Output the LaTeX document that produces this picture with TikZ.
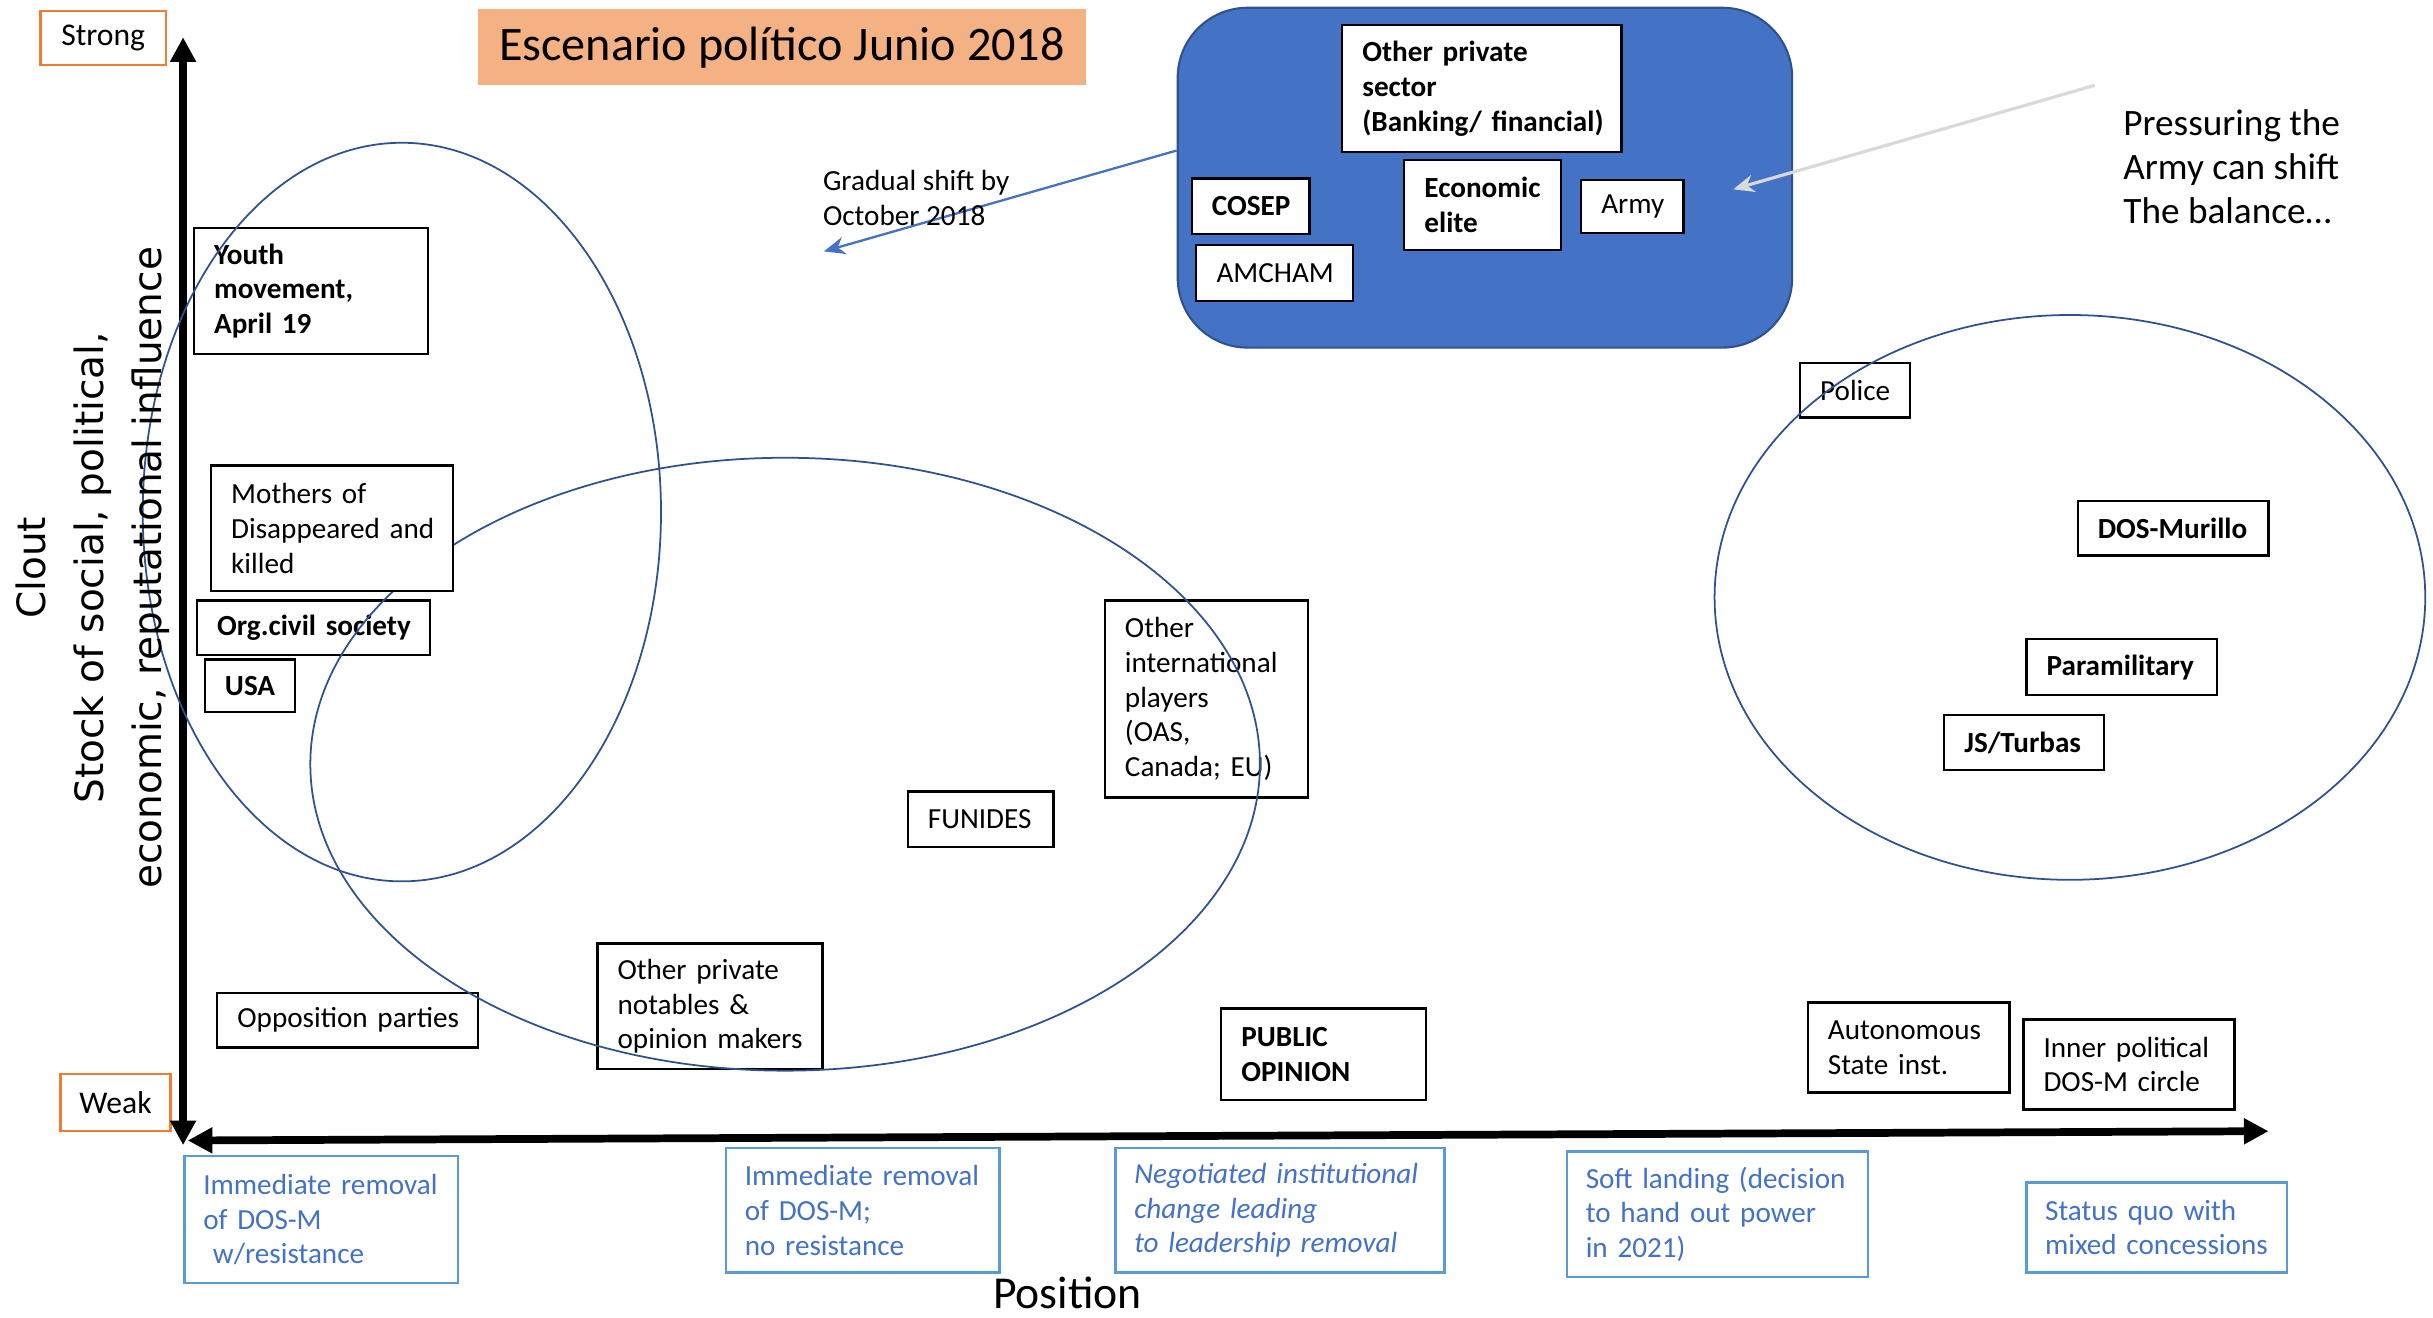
\documentclass[tikz,border=0pt]{standalone}
\usepackage{fontspec}
\setmainfont{Carlito}
\newfontfamily\axisfont{DejaVu Sans}
\usetikzlibrary{arrows.meta}
\newlength\ux
\setlength\ux{0.015517cm}
\definecolor{ringblue}{HTML}{2F528F}
\definecolor{panelblue}{HTML}{4472C4}
\definecolor{scenline}{HTML}{5B9BD5}
\definecolor{scentext}{HTML}{4472C4}
\definecolor{markorange}{HTML}{ED7D31}
\definecolor{titlepeach}{HTML}{F4B183}
\definecolor{hintgray}{HTML}{D9D9D9}
\newcommand\bodyfont{\fontsize{8.3pt}{9.9pt}\selectfont}
\newcommand\padtext[1]{\leftskip=#1\ux\relax\rightskip=0pt plus 1fil\relax\parfillskip=0pt plus 1fil\relax
  \hyphenpenalty=10000\relax\exhyphenpenalty=10000\relax}
\begin{document}
\begin{tikzpicture}[x=0.015517cm, y=-0.015517cm,
  actor/.style 2 args={draw, fill=white, line width=0.65pt, inner xsep=0pt, inner ysep=0pt,
    text width=#1\ux, minimum height=#2\ux, font=\bodyfont, execute at begin node={\padtext{13}}},
  scenario/.style 2 args={draw=scenline, line width=0.7pt, text=scentext, inner xsep=0pt, inner ysep=0pt,
    text width=#1\ux, minimum height=#2\ux, font=\bodyfont, execute at begin node={\padtext{12}}},
  endmark/.style 2 args={draw=markorange, line width=0.7pt, minimum width=#1\ux, minimum height=#2\ux,
    inner sep=0pt, font=\fontsize{9pt}{10.8pt}\selectfont},
  ring/.style={draw=ringblue, line width=0.5pt},
  axis/.style={line width=2.2pt, {Triangle[length=7pt,width=7pt]}-{Triangle[length=7pt,width=7pt]}}]
\fill[white] (0,0) rectangle (1568,849);
\useasboundingbox (0,0) rectangle (1568,849);

\node[fill=titlepeach, minimum width=392\ux, minimum height=49\ux, inner sep=0pt,
  font=\fontsize{13.7pt}{16pt}\selectfont] (title) at (504,30.5) {Escenario político Junio 2018};
\node[endmark={81}{35}] (strong) at (66.5,24.5) {Strong};
\node[endmark={71}{37}] (weak) at (74.5,710.5) {Weak};

\node[fill=panelblue, draw=ringblue, line width=0.6pt, rounded corners=45\ux,
  minimum width=396\ux, minimum height=219\ux] (panel) at (957,114.5) {};
\node[actor={180}{82}, font=\bodyfont\bfseries] (banking) at (955,57) {Other private\\sector\\(Banking/ financial)};
\node[actor={76}{36}, font=\bodyfont\bfseries] (cosep) at (806,133) {COSEP};
\node[actor={101}{36}] (amcham) at (821.5,176) {AMCHAM};
\node[actor={101}{58}, font=\bodyfont\bfseries] (elite) at (955.5,132) {Economic\\elite};
\node[actor={66}{34}] (army) at (1052,133) {Army};

\coordinate (ytop) at (118,24);
\coordinate (ybot) at (118,738);
\coordinate (xleft) at (121,735);
\coordinate (xright) at (1462,729);
\draw[axis] (ybot) -- (ytop);
\draw[axis] (xleft) -- (xright);

\node[actor={151}{81}, font=\bodyfont\bfseries] (youth) at (200.5,187.5) {Youth\\movement,\\April 19};
\node[actor={150}{35}, font=\bodyfont\bfseries] (civil) at (202,404.5) {Org.civil society};
\node[actor={58}{34}, font=\bodyfont\bfseries] (usa) at (161,442) {USA};
\node[actor={168}{35}] (opposition) at (224,657.5) {Opposition parties};
\node[actor={145}{81}] (notables) at (457.5,648.5) {Other private\\notables \&\\opinion makers};
\node[actor={94}{36}] (funides) at (632,528) {FUNIDES};
\node[actor={131}{127}] (intl) at (777.5,450.5) {Other\\international\\players\\(OAS,\\Canada; EU)};
\node[actor={132}{59}, font=\bodyfont\bfseries] (public) at (853,679.5) {PUBLIC\\OPINION};
\node[actor={71}{35}] (police) at (1195.5,251.5) {Police};
\node[actor={123}{35}, font=\bodyfont\bfseries] (dosm) at (1400.5,340.5) {DOS-Murillo};
\node[actor={123}{36}, font=\bodyfont\bfseries] (para) at (1367.5,430) {Paramilitary};
\node[actor={103}{35}, font=\bodyfont\bfseries] (turbas) at (1304.5,478.5) {JS/Turbas};
\node[actor={130}{58}] (autonomous) at (1230,675) {Autonomous\\State inst.};
\node[actor={136}{58}] (innercircle) at (1372,686) {Inner political\\DOS-M circle};

\draw[ring] (259,330) ellipse [x radius=167, y radius=238];
\draw[ring] (506,492.5) ellipse [x radius=306, y radius=197.5];
\draw[ring] (1334,385) ellipse [x radius=229, y radius=182];

\node[actor={156}{81}] (mothers) at (214,340.5) {Mothers of\\Disappeared and\\killed};

\coordinate (shiftend) at (531,162);
\draw[panelblue, line width=0.65pt, -{Stealth[length=6pt,width=5pt]}] (panel.west) ++(0,-17.5) -- (shiftend);
\node[anchor=west, align=left, inner sep=0pt, font=\bodyfont] (shift) at (530,127.5) {Gradual shift by\\October 2018};

\coordinate (pressfrom) at (1350,55);
\coordinate (pressto) at (1117,122);
\draw[hintgray, line width=0.9pt, -{Stealth[length=6pt,width=5pt]}] (pressfrom) -- (pressto);
\node[anchor=west, align=left, inner sep=0pt, font=\fontsize{10.6pt}{12.6pt}\selectfont] (press) at (1368,107.5)
  {Pressuring the\\Army can shift\\The balance…};

\node[rotate=90, align=center, font=\axisfont\fontsize{11.1pt}{16.5pt}\selectfont] (clout) at (60,366)
  {Clout\\Stock of social, political,\\economic, reputational influence};
\node[font=\fontsize{13pt}{15pt}\selectfont] (position) at (688,833) {Position};

\node[scenario={176}{82}] (removalfight) at (207,786) {Immediate removal\\of DOS-M\\\ w/resistance};
\node[scenario={176}{80}] (removalcalm) at (556,780) {Immediate removal\\of DOS-M;\\no resistance};
\node[scenario={212}{80}, font=\bodyfont\itshape] (negotiated) at (825,780) {Negotiated institutional\\change leading\\to leadership removal};
\node[scenario={194}{81}] (softlanding) at (1107,782.5) {Soft landing (decision\\to hand out power\\in 2021)};
\node[scenario={168}{58}] (statusquo) at (1390,791) {Status quo with\\mixed concessions};
\end{tikzpicture}
\end{document}
